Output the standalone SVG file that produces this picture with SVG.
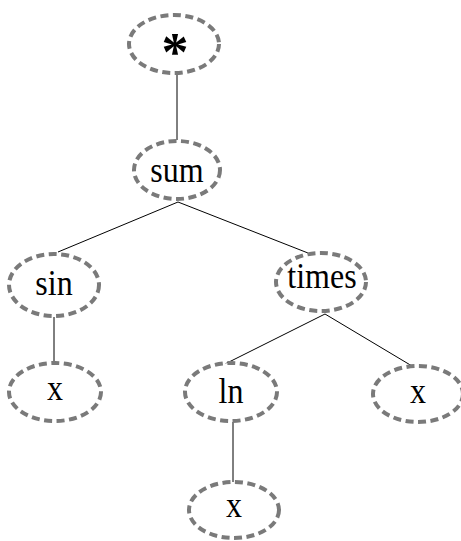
<svg xmlns="http://www.w3.org/2000/svg" width="461" height="541" viewBox="0 0 461 541">
<style>
.n ellipse{fill:#fff;stroke:#7a7a7a;stroke-width:4;stroke-dasharray:8 4.5}
.n text{font-family:"Liberation Serif","Times New Roman",serif;font-size:32px;fill:#000;text-anchor:middle}
.e line{stroke:#000;stroke-width:1}
</style>
<rect width="461" height="541" fill="#fff"/>
<g id="edges" class="e">
<line x1="177" y1="73" x2="177" y2="140"/>
<line x1="178" y1="202" x2="58" y2="252"/>
<line x1="178" y1="202" x2="308" y2="253"/>
<line x1="54" y1="317" x2="54" y2="363"/>
<line x1="325" y1="314" x2="225" y2="364"/>
<line x1="325" y1="314" x2="412" y2="366"/>
<line x1="233" y1="422" x2="233" y2="482"/>
</g>
<g id="n_star" class="n"><ellipse cx="174" cy="44" rx="45" ry="29"/><text x="175" y="70" style="font-size:54px;font-weight:bold">*</text></g>
<g id="n_sum" class="n"><ellipse cx="177" cy="170" rx="43" ry="29"/><text transform="translate(177,182) scale(1,1.15)">sum</text></g>
<g id="n_sin" class="n"><ellipse cx="54" cy="285" rx="45" ry="31"/><text transform="translate(54,295) scale(1,1.15)">sin</text></g>
<g id="n_times" class="n"><ellipse cx="321" cy="282" rx="45" ry="29"/><text transform="translate(322,288) scale(1,1.15)">times</text></g>
<g id="n_x1" class="n"><ellipse cx="55" cy="392" rx="46" ry="29"/><text transform="translate(55,400) scale(1,1.15)">x</text></g>
<g id="n_ln" class="n"><ellipse cx="231" cy="392" rx="46" ry="29"/><text transform="translate(231,403) scale(1,1.15)">ln</text></g>
<g id="n_x2" class="n"><ellipse cx="418" cy="394" rx="45" ry="28"/><text transform="translate(418,403) scale(1,1.15)">x</text></g>
<g id="n_x3" class="n"><ellipse cx="234" cy="510" rx="45" ry="28"/><text transform="translate(234,517) scale(1,1.15)">x</text></g>
</svg>
